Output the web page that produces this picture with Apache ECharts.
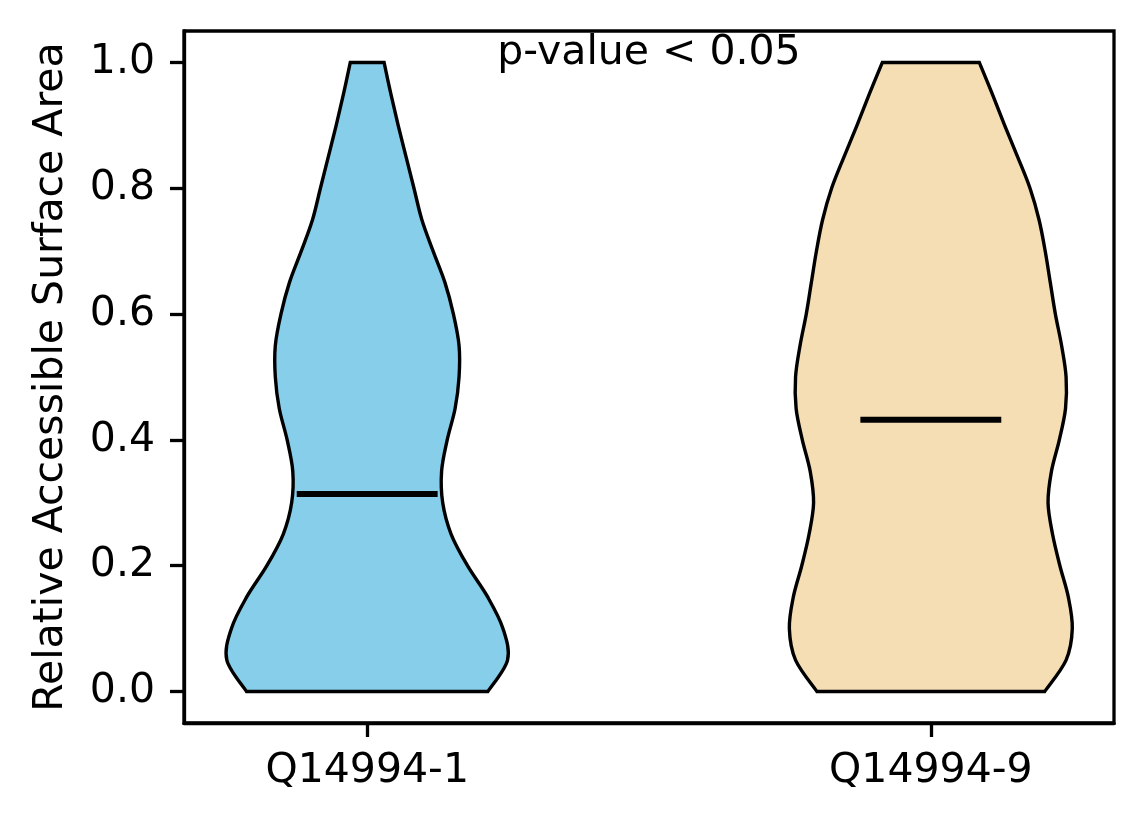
<!DOCTYPE html>
<html lang="en">
<head>
<meta charset="UTF-8">
<title>Relative Accessible Surface Area</title>
<script src="https://cdn.jsdelivr.net/npm/echarts@6/dist/echarts.min.js"></script>
<style>
    html, body, #main {
        width: 100%;
        height: 100%;
        margin: 0;
        background: #fff;
    }
</style>
</head>
<body>
<div id="main"></div>
<script>
    // isoforms on the x axis
    var categories = ['Q14994-1', 'Q14994-9'];
    var positions = [1, 2];

    // density outline: y levels and half width of each violin at that level
    var levels = [0, 0.05, 0.1, 0.15, 0.2, 0.25, 0.3, 0.35, 0.4, 0.45, 0.5,
                  0.55, 0.6, 0.65, 0.7, 0.75, 0.8, 0.85, 0.9, 0.95, 1.0];
    var halfWidthQ1 = [0.214, 0.249, 0.241, 0.214, 0.178, 0.149, 0.134, 0.132, 0.142, 0.156, 0.163,
                       0.163, 0.153, 0.138, 0.117, 0.097, 0.083, 0.069, 0.055, 0.042, 0.030];
    var halfWidthQ9 = [0.202, 0.240, 0.251, 0.244, 0.229, 0.216, 0.208, 0.214, 0.228, 0.239, 0.240,
                       0.232, 0.221, 0.212, 0.203, 0.192, 0.176, 0.154, 0.131, 0.109, 0.086];
    var medians = [0.314, 0.432];
    var medianHalfWidth = 0.125;

    var yTicks = [0, 0.2, 0.4, 0.6, 0.8, 1.0];
    var pText = 'p-value < 0.05';

    var halfWidths = [halfWidthQ1, halfWidthQ9];
    var fills = ['#87ceeb', '#f5deb3'];
    var font = '"DejaVu Sans", sans-serif';

    // catmull-rom through the points -> cubic bezier commands
    function curveTo(pts) {
        var d = '';
        for (var i = 0; i < pts.length - 1; i++) {
            var p0 = pts[Math.max(i - 1, 0)];
            var p1 = pts[i];
            var p2 = pts[i + 1];
            var p3 = pts[Math.min(i + 2, pts.length - 1)];
            var c1x = p1[0] + (p2[0] - p0[0]) / 6;
            var c1y = p1[1] + (p2[1] - p0[1]) / 6;
            var c2x = p2[0] - (p3[0] - p1[0]) / 6;
            var c2y = p2[1] - (p3[1] - p1[1]) / 6;
            d += ' C' + c1x + ' ' + c1y + ' ' + c2x + ' ' + c2y + ' ' + p2[0] + ' ' + p2[1];
        }
        return d;
    }

    function renderViolin(params, api) {
        var idx = params.dataIndex;
        var pos = api.value(0);
        var hw = halfWidths[idx];
        var left = [], right = [];
        for (var k = 0; k < levels.length; k++) {
            left.push(api.coord([pos - hw[k], levels[k]]));
            right.push(api.coord([pos + hw[k], levels[k]]));
        }
        right.reverse();
        var d = 'M' + left[0][0] + ' ' + left[0][1] + curveTo(left) +
            ' L' + right[0][0] + ' ' + right[0][1] + curveTo(right) + ' Z';
        var m1 = api.coord([pos - medianHalfWidth, medians[idx]]);
        var m2 = api.coord([pos + medianHalfWidth, medians[idx]]);
        return {
            type: 'group',
            children: [
                {
                    type: 'path',
                    shape: {pathData: d},
                    style: {fill: fills[idx], stroke: '#000', lineWidth: 3.4, lineJoin: 'miter'}
                },
                {
                    type: 'line',
                    shape: {x1: m1[0], y1: m1[1], x2: m2[0], y2: m2[1]},
                    style: {stroke: '#000', lineWidth: 6}
                }
            ]
        };
    }

    var myChart = echarts.init(document.getElementById('main'));

    var option = {
        backgroundColor: '#fff',
        animation: false,
        grid: {
            left: 184,
            right: 30,
            top: 31,
            bottom: 101,
            show: true,
            borderColor: '#000',
            borderWidth: 3.3,
            backgroundColor: 'transparent'
        },
        xAxis: {
            type: 'value',
            min: 0.675,
            max: 2.325,
            splitLine: {show: false},
            axisLine: {show: true, onZero: false, lineStyle: {color: '#000', width: 3.3}},
            axisTick: {show: true, length: 14, customValues: positions, lineStyle: {color: '#000', width: 3.3}},
            axisLabel: {
                customValues: positions,
                formatter: function (v) {
                    return categories[positions.indexOf(v)];
                },
                margin: 28,
                fontSize: 41,
                color: '#000',
                fontFamily: font
            }
        },
        yAxis: {
            type: 'value',
            min: -0.05,
            max: 1.05,
            name: 'Relative Accessible Surface Area',
            nameLocation: 'middle',
            nameGap: 112,
            nameTextStyle: {fontSize: 41, color: '#000', fontFamily: font},
            splitLine: {show: false},
            axisLine: {show: true, onZero: false, lineStyle: {color: '#000', width: 3.3}},
            axisTick: {show: true, length: 14, customValues: yTicks, lineStyle: {color: '#000', width: 3.3}},
            axisLabel: {
                customValues: yTicks,
                formatter: function (v) {
                    return v.toFixed(1);
                },
                margin: 29,
                fontSize: 41,
                color: '#000',
                fontFamily: font
            }
        },
        series: [
            {
                type: 'custom',
                renderItem: renderViolin,
                data: positions.map(function (p) { return [p]; }),
                encode: {x: 0},
                clip: false
            },
            {
                type: 'custom',
                data: [[1.5, 1.0]],
                renderItem: function (params, api) {
                    var pt = api.coord([api.value(0), api.value(1)]);
                    return {
                        type: 'text',
                        style: {
                            text: pText,
                            x: pt[0],
                            y: pt[1] - 9,
                            align: 'center',
                            verticalAlign: 'middle',
                            fill: '#000',
                            font: '41px ' + font
                        }
                    };
                }
            }
        ]
    };

    myChart.setOption(option);
    window.onresize = myChart.resize;
</script>
</body>
</html>
